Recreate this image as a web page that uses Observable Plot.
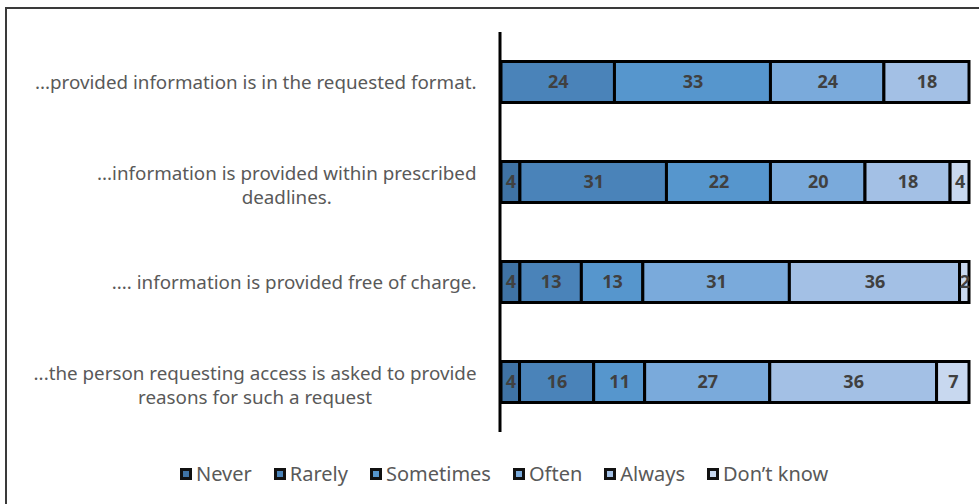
<!DOCTYPE html>
<html><head><meta charset="utf-8">
<script src="https://cdn.jsdelivr.net/npm/d3@7"></script>
<script src="https://cdn.jsdelivr.net/npm/@observablehq/plot@0.6"></script>
<style>
body{margin:0;background:#fff;}
#wrap{position:relative;width:979px;height:504px;overflow:hidden;font-family:"Noto Sans",sans-serif;background:#fff;}
#frame{position:absolute;left:5px;top:7px;width:1000px;height:600px;border-left:2px solid #3a3a3a;border-top:2px solid #3a3a3a;}
#chart{position:absolute;left:0;top:0;}
#legend{position:absolute;left:180px;top:460px;display:flex;align-items:center;font-size:20px;color:#595959;}
.item{display:flex;align-items:center;margin-right:22px;}
.sw{width:12px;height:12px;box-sizing:border-box;border:3px solid #111;margin-right:4px;}
</style></head>
<body><div id="wrap"><div id="frame"></div><div id="chart"></div><div id="legend"></div></div>
<script>
const categories = [
  "...provided information is in the requested format.",
  "...information is provided within prescribed\ndeadlines.",
  ".... information is provided free of charge.",
  "...the person requesting access is asked to provide\nreasons for such a request"
];
const seriesNames = ["Never", "Rarely", "Sometimes", "Often", "Always", "Don\u2019t know"];
const never     = [0, 4, 4, 4];
const rarely    = [24, 31, 13, 16];
const sometimes = [33, 22, 13, 11];
const often     = [24, 20, 31, 27];
const always    = [18, 18, 36, 36];
const dontKnow  = [0, 4, 2, 7];
const colors = ["#3f73a5", "#4a83b9", "#5696cd", "#7aaadb", "#a3c0e5", "#c8d8ef"];

const seriesValues = [never, rarely, sometimes, often, always, dontKnow];
const data = [];
categories.forEach((c, i) => {
  seriesNames.forEach((s, j) => {
    data.push({cat: c, series: s, value: seriesValues[j][i]});
  });
});

const labelSize = 18.8;
const ctx = document.createElement("canvas").getContext("2d");
ctx.font = labelSize + "px 'Noto Sans'";
const labelMarks = [];
const lineH = 24;
categories.forEach(c => {
  const lines = c.split("\n");
  const widths = lines.map(l => ctx.measureText(l).width);
  const blockW = Math.max(...widths);
  lines.forEach((l, k) => {
    labelMarks.push(Plot.text([{cat: c, line: l}], {
      y: "cat", text: "line", frameAnchor: "left", textAnchor: "end",
      dx: -25 - (blockW - widths[k]) / 2,
      dy: (k - (lines.length - 1) / 2) * lineH + (lines.length > 1 ? 3 : 0),
      fill: "#595959", fontSize: labelSize
    }));
  });
});

const chart = Plot.plot({
  width: 979, height: 450,
  marginLeft: 501, marginRight: 10, marginTop: 32, marginBottom: 18,
  style: {fontFamily: "'Noto Sans', sans-serif", background: "transparent"},
  x: {axis: null},
  y: {domain: categories, padding: 0, axis: null},
  color: {domain: seriesNames, range: colors},
  marks: [
    Plot.barX(data, Plot.stackX({offset: "normalize", order: seriesNames, x: "value", y: "cat", z: "series", fill: "series", stroke: "#000", strokeWidth: 3, insetTop: 29.5, insetBottom: 29.5})),
    Plot.text(data, Plot.stackX({offset: "normalize", order: seriesNames, x: "value", y: "cat", z: "series", text: d => d.value > 0 ? String(d.value) : "", fill: "#404040", fontWeight: "bold", fontSize: 18})),
    Plot.ruleX([0], {stroke: "#000", strokeWidth: 3, dx: -1.5}),
    ...labelMarks
  ]
});
document.getElementById("chart").appendChild(chart);

const legend = document.getElementById("legend");
seriesNames.forEach((s, j) => {
  const it = document.createElement("div"); it.className = "item";
  const sw = document.createElement("span"); sw.className = "sw"; sw.style.background = colors[j];
  const tx = document.createElement("span"); tx.textContent = s;
  it.appendChild(sw); it.appendChild(tx); legend.appendChild(it);
});
</script></body></html>
